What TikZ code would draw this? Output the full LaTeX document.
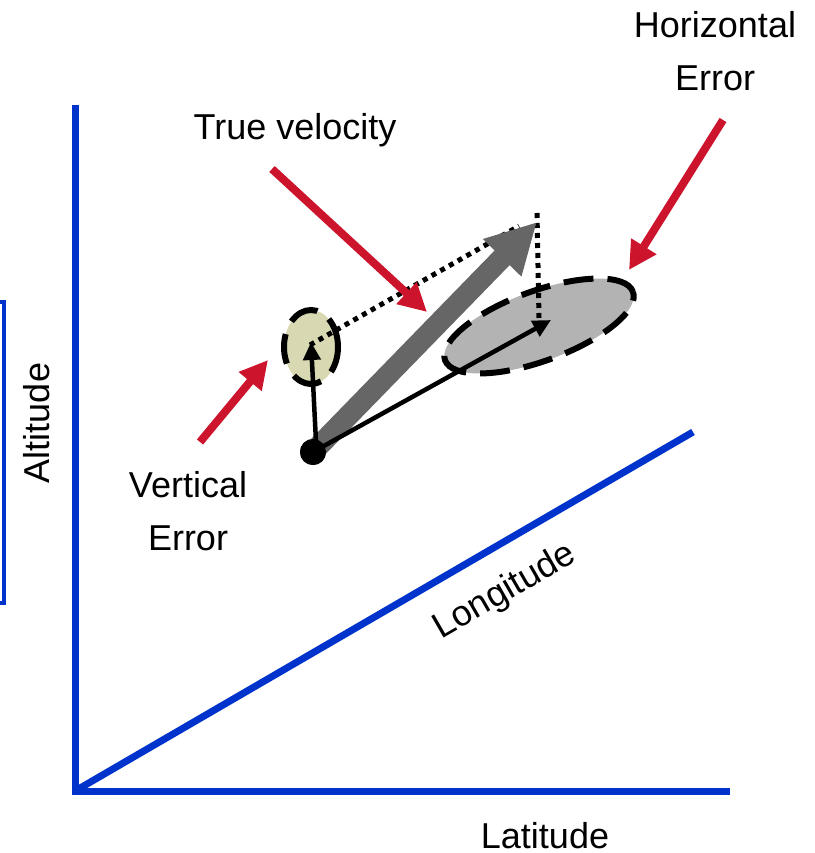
\documentclass[tikz,border=0pt]{standalone}
\usepackage{fontspec}
\setmainfont{Liberation Sans}
\usetikzlibrary{arrows.meta,shapes.geometric}
\definecolor{axisblue}{RGB}{0,51,204}
\definecolor{errred}{RGB}{205,20,45}
\definecolor{vfill}{RGB}{216,216,178}
\definecolor{hfill}{RGB}{179,179,179}
\definecolor{vgray}{RGB}{102,102,102}
\tikzset{
  axisline/.style={draw=axisblue,line width=7pt},
  lbl/.style={font=\fontsize{36}{43}\selectfont, inner sep=0pt, anchor=base},
  redarrow/.style={draw=errred, line width=8pt, -{Triangle[length=28pt,width=28pt]}},
  blackarrow/.style={draw=black, line width=4.5pt, -{Triangle[length=18pt,width=17pt]}},
  dotline/.style={draw=black, line width=5pt, dash pattern=on 5pt off 5pt},
  errell/.style={ellipse, draw=black, line width=6pt, dash pattern=on 30pt off 14pt, inner sep=0pt},
}
\begin{document}
\begin{tikzpicture}[x=1pt,y=-1pt]
\useasboundingbox (0,0) rectangle (814,853);

% clipped frame at left edge
\draw[axisblue, line width=4pt] (-8,302) rectangle (4,603);

% axes
\coordinate (O) at (75,791);
\coordinate (ytop) at (75,105);
\coordinate (xend) at (730,791);
\coordinate (zend) at (693,432);
\draw[axisline] (ytop) -- (O) -- (xend);
\draw[axisline] (O) -- (zend);

% error ellipses
\node[errell, fill=vfill, minimum width=54pt, minimum height=74pt] (ve) at (311,347) {};
\node[errell, fill=hfill, minimum width=200pt, minimum height=70pt, rotate=20] (he) at (539,326) {};

% points
\coordinate (gt) at (537,222);
\coordinate (vc) at (310,345);
\coordinate (dtop) at (537,213);
\coordinate (dbot) at (539,318);
\coordinate (vtip) at (311,342);
\coordinate (htip) at (551,320);
\coordinate (vtail) at (316,442);
\node[circle, fill=black, minimum size=26pt, inner sep=0pt] (o) at (313,452) {};

% dotted lines
\draw[dotline] (vc) -- (519,226);
\draw[dotline] (dtop) -- (dbot);

% true velocity
\draw[line width=21pt, vgray, -{Triangle[length=50pt,width=50pt]}] (o.center) -- (gt);

% measured components
\draw[blackarrow] (o.center) -- (htip);
\draw[blackarrow] (vtail) -- (vtip);
\node[circle, fill=black, minimum size=26pt, inner sep=0pt] at (o.center) {};

% red pointers
\coordinate (r1a) at (272,169);
\coordinate (r1b) at (427,312);
\coordinate (r2a) at (723,120);
\coordinate (r2b) at (629,270);
\coordinate (r3a) at (200,442);
\coordinate (r3b) at (268,360);
\draw[redarrow] (r1a) -- (r1b);
\draw[redarrow] (r2a) -- (r2b);
\draw[redarrow] (r3a) -- (r3b);

% labels
\node[lbl] (tv) at (295,140) {True velocity};
\node[lbl] (h1) at (715,38) {Horizontal};
\node[lbl] (h2) at (715,91) {Error};
\node[lbl] (v1) at (188,497) {Vertical};
\node[lbl] (v2) at (188,550) {Error};
\node[font=\fontsize{36}{43}\selectfont, inner sep=0pt, rotate=90] (alt) at (37,423) {Altitude};
\node[lbl] (lat) at (545,848) {Latitude};
\node[font=\fontsize{36}{43}\selectfont, inner sep=0pt, rotate=30] (lon) at (505,592) {Longitude};
\end{tikzpicture}
\end{document}
